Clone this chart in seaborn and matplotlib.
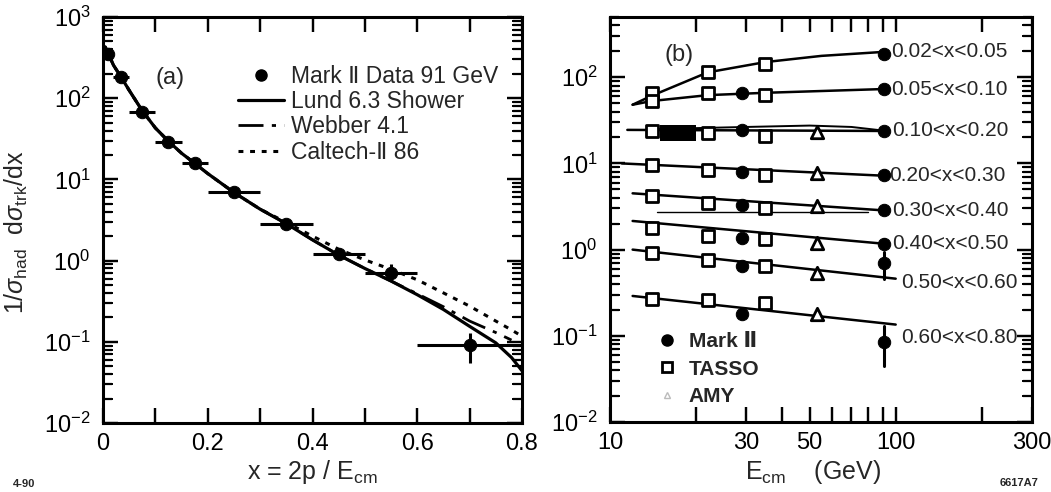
import numpy as np
import pandas as pd
import seaborn as sns
import matplotlib.pyplot as plt
from matplotlib.lines import Line2D
from matplotlib.ticker import FixedLocator, NullFormatter, FuncFormatter, LogLocator

# ---- panel (a): Mark II 91 GeV inclusive x distribution ----
x_pts = [0.01, 0.035, 0.075, 0.125, 0.175, 0.25, 0.35, 0.45, 0.55, 0.70]
x_lo = [0.0, 0.02, 0.05, 0.10, 0.15, 0.20, 0.30, 0.40, 0.50, 0.60]
x_hi = [0.02, 0.05, 0.10, 0.15, 0.20, 0.30, 0.40, 0.50, 0.60, 0.80]
y_pts = [350, 180, 68, 29, 16, 6.9, 2.85, 1.19, 0.71, 0.092]
y_lo = [350, 180, 68, 29, 16, 6.9, 2.85, 1.05, 0.56, 0.055]
y_hi = [350, 180, 68, 29, 16, 6.9, 2.85, 1.35, 0.92, 0.13]

model_x = [0.004, 0.01, 0.02, 0.035, 0.05, 0.075, 0.1, 0.125, 0.15, 0.175, 0.2, 0.25,
           0.3, 0.35, 0.4, 0.45, 0.5, 0.55, 0.6, 0.65, 0.7, 0.75, 0.78, 0.8]
lund = [430, 355, 255, 180, 125, 70, 43, 29.5, 21, 15.8, 11.8, 6.9,
        4.3, 2.85, 1.8, 1.17, 0.8, 0.56, 0.38, 0.25, 0.155, 0.097, 0.064, 0.044]
webber = [430, 355, 255, 180, 125, 70, 43, 29.5, 21, 15.8, 11.8, 6.9,
          4.3, 2.85, 1.8, 1.17, 0.8, 0.56, 0.39, 0.27, 0.18, 0.13, 0.105, np.nan]
caltech = [430, 355, 255, 180, 125, 70, 43, 29.5, 21, 15.8, 11.8, 6.9,
           4.3, 2.95, 2.0, 1.38, 1.02, 0.78, 0.58, 0.40, 0.275, 0.18, 0.14, 0.117]

# ---- panel (b): energy dependence in x bins ----
bins = ["0.02<x<0.05", "0.05<x<0.10", "0.10<x<0.20", "0.20<x<0.30",
        "0.30<x<0.40", "0.40<x<0.50", "0.50<x<0.60", "0.60<x<0.80"]
tasso_e = [14, 22, 35]
tasso = [[65, 114, 144], [53, 65, 62.5], [24, 22.5, 21], [9.6, 8.3, 7.3],
         [4.2, 3.5, 3.05], [1.8, 1.44, 1.33], [0.91, 0.76, 0.65], [0.27, 0.26, 0.24]]
mark2_e = [29, 91]
mark2 = [[np.nan, 188], [66, 74], [24.2, 23.8], [8.0, 7.3],
         [3.3, 2.9], [1.37, 1.17], [0.64, 0.70], [0.18, 0.085]]
mark2_91_lo = [188, 74, 23.8, 7.3, 2.9, 1.05, 0.46, 0.045]
mark2_91_hi = [188, 74, 23.8, 7.3, 2.9, 1.32, 0.93, 0.13]
amy_e = [53]
amy = [[np.nan], [np.nan], [23.4], [7.7], [3.2], [1.2], [0.53], [0.18]]

fit_e = [[12, 14, 22, 35, 55, 91], [12, 14, 22, 35, 91], [11.5, 91], [11, 91],
         [12, 91], [12, 91], [12, 100], [12, 100]]
fit_v = [[48, 61, 114, 150, 177, 197], [48, 53, 62, 66, 73], [24.5, 23.8], [10.0, 7.2],
         [4.5, 2.85], [2.15, 1.17], [1.0, 0.46], [0.29, 0.135]]
fit2_e = [14, 30, 50, 70, 91]
fit2_v = [25, 26.5, 27.5, 26.5, 24]

# scan artefacts in the original figure
rule_e = [14.6, 80]
rule_v = [2.7, 2.7]
block_e = [15, 20]
block_lo = [18, 18]
block_hi = [28, 28]

sns.set_theme(style="ticks")
plt.rcParams["font.family"] = ["Liberation Sans", "DejaVu Sans"]
plt.rcParams["mathtext.fontset"] = "custom"
plt.rcParams["mathtext.rm"] = "Liberation Sans"
plt.rcParams["mathtext.it"] = "Liberation Sans:italic"
plt.rcParams["mathtext.bf"] = "Liberation Sans:bold"
plt.rcParams.update({
    "axes.axisbelow": False,
    "xtick.direction": "in", "ytick.direction": "in",
    "xtick.top": True, "ytick.right": True,
    "xtick.color": "black", "ytick.color": "black",
    "xtick.labelsize": 17, "ytick.labelsize": 17,
})

FIG_W, FIG_H = 1051, 492
fig = plt.figure(figsize=(FIG_W / 100, FIG_H / 100), dpi=100)
ax_a = fig.add_axes([103 / FIG_W, 1 - 423 / FIG_H, 419 / FIG_W, 406 / FIG_H])
ax_b = fig.add_axes([610 / FIG_W, 1 - 422 / FIG_H, 422 / FIG_W, 405 / FIG_H])

for ax in (ax_a, ax_b):
    ax.set_yscale("log")
    for s in ax.spines.values():
        s.set_linewidth(2.2)
        s.set_color("black")

# ---------------- (a) ----------------
curves = pd.DataFrame({"x": model_x, "Lund": lund, "Webber": webber, "Caltech": caltech})
sns.lineplot(data=curves, x="x", y="Lund", ax=ax_a, color="black", linewidth=2.3)
sns.lineplot(data=curves.dropna(), x="x", y="Webber", ax=ax_a, color="black",
             linewidth=2.0, linestyle=(0, (9, 3, 1.5, 3)))
sns.lineplot(data=curves, x="x", y="Caltech", ax=ax_a, color="black",
             linewidth=2.2, linestyle=(0, (1.6, 2.2)))

xp = np.array(x_pts)
yp = np.array(y_pts)
ax_a.errorbar(xp, yp, xerr=[xp - np.array(x_lo), np.array(x_hi) - xp],
              yerr=[yp - np.array(y_lo), np.array(y_hi) - yp],
              fmt="none", ecolor="black", elinewidth=2.2, capsize=0)
sns.scatterplot(x=x_pts, y=y_pts, ax=ax_a, color="black", s=80, edgecolor="black",
                zorder=5, legend=False)

ax_a.set_xlim(0, 0.8)
ax_a.set_ylim(1e-2, 1e3)
ax_a.set_xticks([0, 0.2, 0.4, 0.6, 0.8])
ax_a.xaxis.set_minor_locator(FixedLocator([0.1, 0.3, 0.5, 0.7]))
ax_a.xaxis.set_major_formatter(FuncFormatter(lambda v, p: "0" if v == 0 else f"{v:.1f}"))
ax_a.yaxis.set_major_locator(LogLocator(base=10, numticks=10))
ax_a.yaxis.set_minor_locator(LogLocator(base=10, subs=np.arange(2, 10), numticks=10))
ax_a.yaxis.set_minor_formatter(NullFormatter())

ax_a.set_xlabel(r"x = 2p / E$_{\rm cm}$", fontsize=18)
ax_a.xaxis.set_label_coords(0.5, -0.085)
ax_a.set_ylabel(r"1/$\sigma_{\rm had}$  d$\sigma_{\rm trk}$/dx", fontsize=18)
ax_a.yaxis.set_label_coords(-0.175, 0.47)
ax_a.text(0.125, 0.85, "(a)", transform=ax_a.transAxes, fontsize=17, va="center")

h_a = [Line2D([], [], color="black", marker="o", markersize=8, linestyle="none"),
       Line2D([], [], color="black", linewidth=2.3),
       Line2D([], [], color="black", linewidth=2.0, linestyle=(0, (9, 3, 1.5, 3))),
       Line2D([], [], color="black", linewidth=2.2, linestyle=(0, (1.6, 2.2)))]
ax_a.legend(h_a, ["Mark \u2161 Data 91 GeV", "Lund 6.3 Shower", "Webber 4.1", "Caltech-\u2161 86"],
            loc="upper left", bbox_to_anchor=(0.3, 0.905), frameon=False, fontsize=16.5,
            handlelength=2.0, labelspacing=0.1, handletextpad=0.3, borderaxespad=0)

# ---------------- (b) ----------------
ax_b.set_xscale("log")
ax_b.fill_between(block_e, block_lo, block_hi, color="black", linewidth=0, zorder=2)
sns.lineplot(x=rule_e, y=rule_v, ax=ax_b, color="black", linewidth=1.0)
sns.lineplot(x=fit2_e, y=fit2_v, ax=ax_b, color="black", linewidth=1.4)

label_off = [(5, 0), (5, 0), (6, 0), (4, 0), (6, 0), (6, 0), (4, -3), (4, -9)]
for i, name in enumerate(bins):
    sns.lineplot(x=fit_e[i], y=fit_v[i], ax=ax_b, color="black", linewidth=1.8)
    sns.scatterplot(x=tasso_e, y=tasso[i], ax=ax_b, marker="s", s=70, facecolor="white",
                    edgecolor="black", linewidth=2.0, zorder=5, legend=False)
    sns.scatterplot(x=mark2_e, y=mark2[i], ax=ax_b, marker="o", s=80, color="black",
                    edgecolor="black", zorder=6, legend=False)
    sns.scatterplot(x=amy_e, y=amy[i], ax=ax_b, marker="^", s=80, facecolor="white",
                    edgecolor="black", linewidth=2.0, zorder=5, legend=False)
    ax_b.plot([91, 91], [mark2_91_lo[i], mark2_91_hi[i]], color="black", linewidth=2.2)
    ax_b.annotate(name, xy=(fit_e[i][-1], fit_v[i][-1]), xytext=label_off[i],
                  textcoords="offset points", va="center", ha="left", fontsize=15)

ax_b.set_xlim(10, 300)
ax_b.set_ylim(1e-2, 500)
ax_b.xaxis.set_major_locator(FixedLocator([10, 30, 50, 100, 300]))
ax_b.xaxis.set_major_formatter(FuncFormatter(lambda v, p: f"{v:g}"))
ax_b.xaxis.set_minor_locator(FixedLocator([20, 40, 60, 70, 80, 90, 200]))
ax_b.xaxis.set_minor_formatter(NullFormatter())
ax_b.yaxis.set_major_locator(LogLocator(base=10, numticks=10))
ax_b.yaxis.set_minor_locator(LogLocator(base=10, subs=np.arange(2, 10), numticks=10))
ax_b.yaxis.set_minor_formatter(NullFormatter())

ax_b.set_xlabel(r"E$_{\rm cm}$    (GeV)", fontsize=18)
ax_b.xaxis.set_label_coords(0.48, -0.09)
ax_b.set_ylabel("")
ax_b.text(0.13, 0.905, "(b)", transform=ax_b.transAxes, fontsize=17, va="center")

h_b = [Line2D([], [], color="black", marker="o", markersize=8, linestyle="none"),
       Line2D([], [], color="black", marker="s", markersize=7, markerfacecolor="white",
              markeredgewidth=2.0, linestyle="none"),
       Line2D([], [], color="#bbbbbb", marker="^", markersize=5, markerfacecolor="white",
              markeredgewidth=1.0, linestyle="none")]
ax_b.legend(h_b, ["Mark \u2161", "TASSO", "AMY"], loc="upper left",
            bbox_to_anchor=(0.09, 0.243), frameon=False,
            prop={"weight": "bold", "size": 15}, handlelength=1.0,
            labelspacing=0.42, handletextpad=0.55, borderaxespad=0)

# tick styling applied last
for ax in (ax_a, ax_b):
    ax.set_axisbelow(False)
    ax.tick_params(which="both", direction="in", top=True, right=True,
                   bottom=True, left=True, color="black")
    ax.tick_params(which="major", length=11, width=1.6)
    ax.tick_params(which="minor", length=7, width=1.4)
    ax.tick_params(axis="x", which="minor", length=11, width=1.6)
    ax.tick_params(axis="x", pad=7)
    ax.tick_params(axis="y", pad=9)


# inward tick marks drawn as plain lines too, so they always show up on the saved image
def inward_ticks(ax, major_len=15, minor_len=9, x_minor_len=15):
    pos = ax.get_position()
    w_px, h_px = pos.width * FIG_W, pos.height * FIG_H
    y0, y1 = ax.get_ylim()
    x0, x1 = ax.get_xlim()
    ytr = ax.get_yaxis_transform()
    xtr = ax.get_xaxis_transform()
    kw = dict(color="black", clip_on=False, zorder=8, solid_capstyle="butt")
    for locs, ln in [(ax.yaxis.get_majorticklocs(), major_len),
                     (ax.yaxis.get_minorticklocs(), minor_len)]:
        f = ln / w_px
        for v in locs:
            if y0 <= v <= y1:
                ax.plot([0, f], [v, v], transform=ytr, linewidth=1.6, **kw)
                ax.plot([1 - f, 1], [v, v], transform=ytr, linewidth=1.6, **kw)
    for locs, ln in [(ax.xaxis.get_majorticklocs(), major_len),
                     (ax.xaxis.get_minorticklocs(), x_minor_len)]:
        f = ln / h_px
        for v in locs:
            if x0 < v < x1:
                ax.plot([v, v], [0, f], transform=xtr, linewidth=1.6, **kw)
                ax.plot([v, v], [1 - f, 1], transform=xtr, linewidth=1.6, **kw)


inward_ticks(ax_a)
inward_ticks(ax_b)

fig.text(13 / FIG_W, 1 - 484 / FIG_H, "4-90", fontsize=8, fontweight="bold", va="center")
fig.text(1000 / FIG_W, 1 - 483 / FIG_H, "6617A7", fontsize=8, fontweight="bold", va="center")

fig.savefig("out.png", dpi=100)
